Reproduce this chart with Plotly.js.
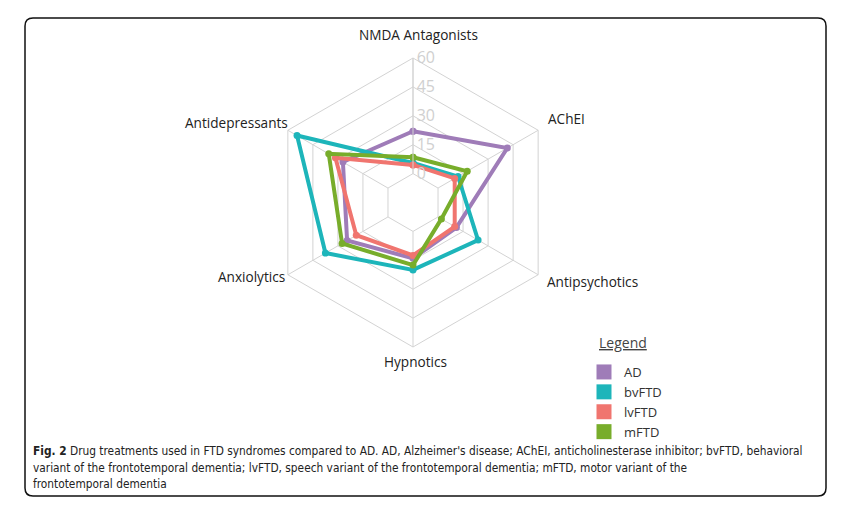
<!DOCTYPE html>
<html>
<head>
<meta charset="utf-8">
<script src="https://cdn.plot.ly/plotly-3.0.1.min.js"></script>
<style>
  html, body { margin: 0; padding: 0; background: #fff; }
  #chart { width: 847px; height: 513px; }
</style>
</head>
<body>
<div id="chart"></div>
<script>
// ---- data ----
const categories = ["NMDA Antagonists", "AChEI", "Antipsychotics", "Hypnotics", "Anxiolytics", "Antidepressants"];
const seriesNames = ["AD", "bvFTD", "lvFTD", "mFTD"];
const valuesAD    = [22,   41.5, 11, 14,   24.5, 27];
const valuesBvFTD = [5.5,  12,   24, 20,   37.5, 54.5];
const valuesLvFTD = [4.5,  10,   10, 12.5, 19,   31.5];
const valuesMFTD  = [8.5,  17.5, 2,  17.5, 27.5, 35.5];
const radialTicks = [0, 15, 30, 45, 60];
const radialRange = [0, 60];

const colors = ["#9f7cb8", "#1db5ba", "#f0756f", "#78ad2b"];
const allValues = [valuesAD, valuesBvFTD, valuesLvFTD, valuesMFTD];

const W = 847, H = 513;
const px = x => x / W;
const py = y => 1 - y / H;

const traces = [];
allValues.forEach((vals, i) => {
  traces.push({
    type: "scatterpolar",
    mode: "lines+markers",
    r: vals.concat([vals[0]]),
    theta: categories.concat([categories[0]]),
    line: { color: colors[i], width: 4 },
    marker: { color: colors[i], size: 7 },
    name: seriesNames[i],
    showlegend: false,
    hoverinfo: "name+r+theta"
  });
});
// legend entries (square swatches)
allValues.forEach((vals, i) => {
  traces.push({
    type: "scatterpolar",
    mode: "markers",
    r: [null],
    theta: [categories[0]],
    marker: { color: colors[i], size: 15, symbol: "square" },
    name: seriesNames[i],
    showlegend: true
  });
});

// rounded frame path in paper coordinates
function roundedRect(x0, y0, x1, y1, rr) {
  const X = px, Y = py;
  return `M ${X(x0 + rr)} ${Y(y0)} L ${X(x1 - rr)} ${Y(y0)} Q ${X(x1)} ${Y(y0)} ${X(x1)} ${Y(y0 + rr)} ` +
         `L ${X(x1)} ${Y(y1 - rr)} Q ${X(x1)} ${Y(y1)} ${X(x1 - rr)} ${Y(y1)} ` +
         `L ${X(x0 + rr)} ${Y(y1)} Q ${X(x0)} ${Y(y1)} ${X(x0)} ${Y(y1 - rr)} ` +
         `L ${X(x0)} ${Y(y0 + rr)} Q ${X(x0)} ${Y(y0)} ${X(x0 + rr)} ${Y(y0)} Z`;
}

const gridColor = "#d3d3d3";
const cx = 413, cy = 202.5, R = 144.5;

// category label placement (pixel anchor, anchors)
const catLabelPos = [
  { x: 418, y: 35,  xa: "center" },
  { x: 546, y: 119, xa: "left" },
  { x: 545, y: 281, xa: "left" },
  { x: 415, y: 361, xa: "center" },
  { x: 287, y: 276, xa: "right" },
  { x: 290, y: 123, xa: "right" }
];

const captionLines = [
  "<b>Fig. 2</b> Drug treatments used in FTD syndromes compared to AD. AD, Alzheimer's disease; AChEI, anticholinesterase inhibitor; bvFTD, behavioral",
  "variant of the frontotemporal dementia; lvFTD, speech variant of the frontotemporal dementia; mFTD, motor variant of the",
  "frontotemporal dementia"
];
const captionY = [451, 467.5, 484];
const captionFont = { family: "DejaVu Sans Condensed, DejaVu Sans, sans-serif", size: 11.8, color: "#222" };

const annotations = [
  { xref: "paper", yref: "paper", x: px(597), y: py(342), xanchor: "left", yanchor: "middle",
    text: "<u>Legend</u>", showarrow: false,
    font: { family: "Open Sans, sans-serif", size: 14, color: "#444" } }
];
categories.forEach((c, i) => {
  const p = catLabelPos[i];
  annotations.push({ xref: "paper", yref: "paper", x: px(p.x), y: py(p.y), xanchor: p.xa, yanchor: "middle",
    text: c, showarrow: false, font: { family: "Open Sans, sans-serif", size: 13.6, color: "#222" } });
});
captionLines.forEach((t, i) => {
  annotations.push({ xref: "paper", yref: "paper", x: px(31), y: py(captionY[i]), xanchor: "left", yanchor: "middle",
    align: "left", text: t, showarrow: false, font: captionFont });
});

const layout = {
  width: W, height: H,
  margin: { l: 0, r: 0, t: 0, b: 0 },
  paper_bgcolor: "#ffffff",
  font: { family: "Open Sans, sans-serif", color: "#222" },
  polar: {
    domain: { x: [px(cx - R), px(cx + R)], y: [py(cy + R), py(cy - R)] },
    hole: 0.2,
    gridshape: "linear",
    bgcolor: "rgba(0,0,0,0)",
    radialaxis: {
      range: radialRange,
      tickvals: radialTicks,
      ticktext: radialTicks.map(String),
      angle: 90,
      tickangle: 90,
      showline: true,
      linecolor: gridColor,
      linewidth: 1,
      gridcolor: gridColor,
      ticks: "",
      tickfont: { family: "Open Sans, sans-serif", size: 16, color: "#d0d0d0" }
    },
    angularaxis: {
      direction: "clockwise",
      rotation: 90,
      linecolor: gridColor,
      linewidth: 1,
      gridcolor: gridColor,
      ticks: "",
      showticklabels: false
    }
  },
  legend: {
    x: px(584), y: py(357), xanchor: "left", yanchor: "top",
    font: { family: "Open Sans, sans-serif", size: 13, color: "#333" },
    bgcolor: "rgba(0,0,0,0)",
    itemsizing: "trace",
    tracegroupgap: 0
  },
  shapes: [
    { type: "path", xref: "paper", yref: "paper", path: roundedRect(25, 18, 826, 496, 8),
      line: { color: "#111", width: 1.5 }, fillcolor: "rgba(0,0,0,0)" }
  ],
  annotations: annotations
};

Plotly.newPlot("chart", traces, layout, { displayModeBar: false, staticPlot: true });
</script>
</body>
</html>
